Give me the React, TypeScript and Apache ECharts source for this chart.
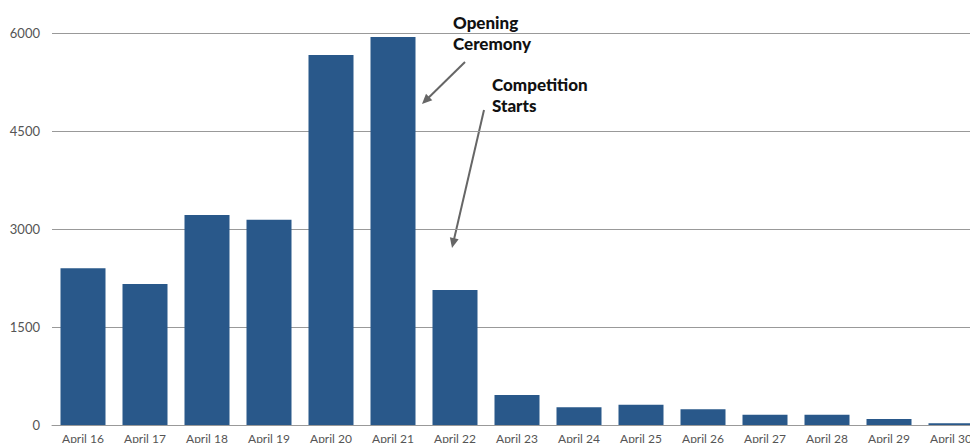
import React, { useEffect, useRef } from "react";
import * as echarts from "echarts";

const categories = [
  "April 16", "April 17", "April 18", "April 19", "April 20", "April 21", "April 22",
  "April 23", "April 24", "April 25", "April 26", "April 27", "April 28", "April 29", "April 30",
];
const values = [2400, 2160, 3215, 3140, 5665, 5940, 2065, 460, 270, 310, 240, 155, 155, 92, 26];
const yTicks = [0, 1500, 3000, 4500, 6000];

const annotations = [
  { lines: ["Opening", "Ceremony"], x: 453, y: 12, from: [465, 62], to: [422, 104] },
  { lines: ["Competition", "Starts"], x: 492, y: 74, from: [484, 110], to: [452, 248] },
];

function arrowHead(from: number[], to: number[], len = 10, half = 4.5) {
  const dx = to[0] - from[0];
  const dy = to[1] - from[1];
  const d = Math.hypot(dx, dy);
  const ux = dx / d, uy = dy / d;
  const bx = to[0] - ux * len, by = to[1] - uy * len;
  return [
    [to[0], to[1]],
    [bx - uy * half, by + ux * half],
    [bx + uy * half, by - ux * half],
  ];
}

export default function App() {
  const ref = useRef<HTMLDivElement>(null);
  useEffect(() => {
    if (!ref.current) return;
    const chart = echarts.init(ref.current, undefined, { renderer: "svg" });
    const graphics: any[] = [];
    annotations.forEach((a) => {
      graphics.push({
        type: "text",
        left: a.x,
        top: a.y,
        style: {
          text: a.lines.join("\n"),
          font: "900 17px Lato",
          lineHeight: 21,
          fill: "#111",
        },
      });
      const head = arrowHead(a.from, a.to);
      const d = Math.hypot(a.to[0] - a.from[0], a.to[1] - a.from[1]);
      const shaftEnd = [
        a.to[0] - ((a.to[0] - a.from[0]) / d) * 8,
        a.to[1] - ((a.to[1] - a.from[1]) / d) * 8,
      ];
      graphics.push({
        type: "line",
        shape: { x1: a.from[0], y1: a.from[1], x2: shaftEnd[0], y2: shaftEnd[1] },
        style: { stroke: "#666", lineWidth: 2 },
      });
      graphics.push({
        type: "polygon",
        shape: { points: head },
        style: { fill: "#666" },
      });
    });
    chart.setOption({
      animation: false,
      grid: {
        left: 52,
        top: 33,
        width: 930,
        bottom: 18,
        containLabel: false,
        outerBoundsMode: "none",
      },
      xAxis: {
        type: "category",
        data: categories,
        axisTick: { show: false },
        axisLine: { show: true, lineStyle: { color: "#999", width: 1 } },
        axisLabel: { color: "#555", fontSize: 12, fontFamily: "Lato", margin: 7, interval: 0 },
      },
      yAxis: {
        type: "value",
        min: 0,
        max: 6000,
        interval: 1500,
        axisLine: { show: false },
        axisTick: { show: false },
        axisLabel: {
          color: "#555",
          fontSize: 13,
          fontFamily: "Lato",
          margin: 12,
          formatter: (v: number) => (yTicks.includes(v) ? String(v) : ""),
        },
        splitLine: { lineStyle: { color: "#999", width: 1 } },
      },
      series: [
        {
          type: "bar",
          data: values,
          barWidth: 45,
          itemStyle: { color: "#29588A" },
        },
      ],
      graphic: graphics,
    });
    return () => chart.dispose();
  }, []);
  return <div ref={ref} style={{ width: 970, height: 443, position: "absolute", left: 0, top: 0 }} />;
}
